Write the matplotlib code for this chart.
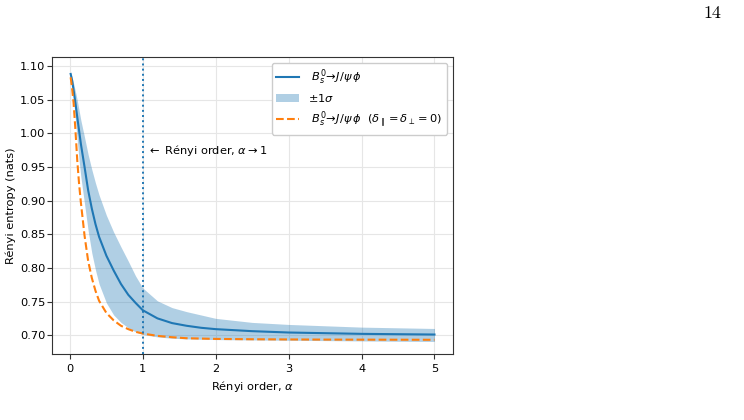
import numpy as np
import matplotlib
matplotlib.use("Agg")
import matplotlib.pyplot as plt

# Renyi order grid
alpha = [0.01, 0.03, 0.05, 0.075, 0.1, 0.125, 0.15, 0.2, 0.25, 0.3, 0.35, 0.4,
         0.5, 0.6, 0.7, 0.8, 0.9, 1.0, 1.2, 1.4, 1.6, 1.8, 2.0, 2.5, 3.0, 3.5,
         4.0, 4.5, 5.0]

# mean Renyi entropy (nats), Bs -> J/psi phi
h_mean = [1.088, 1.078, 1.064, 1.045, 1.024, 1.004, 0.984, 0.950, 0.915, 0.888,
          0.865, 0.846, 0.818, 0.796, 0.776, 0.760, 0.748, 0.737, 0.725, 0.718,
          0.714, 0.711, 0.709, 0.706, 0.704, 0.703, 0.702, 0.7015, 0.701]

# +/- 1 sigma band
h_upper = [1.090, 1.083, 1.074, 1.062, 1.049, 1.034, 1.019, 0.994, 0.968, 0.946,
           0.926, 0.908, 0.878, 0.853, 0.831, 0.810, 0.788, 0.770, 0.751, 0.741,
           0.735, 0.730, 0.725, 0.719, 0.716, 0.714, 0.712, 0.711, 0.710]
h_lower = [1.086, 1.070, 1.050, 1.020, 0.990, 0.960, 0.935, 0.895, 0.855, 0.822,
           0.797, 0.776, 0.748, 0.730, 0.719, 0.711, 0.705, 0.701, 0.6975, 0.6955,
           0.6945, 0.694, 0.6935, 0.693, 0.6925, 0.692, 0.6915, 0.691, 0.6907]

# no-polarisation case (delta_par = delta_perp = 0)
h_nopol = [1.083, 1.066, 1.045, 1.005, 0.960, 0.925, 0.897, 0.848, 0.810, 0.785,
           0.766, 0.751, 0.733, 0.722, 0.714, 0.709, 0.705, 0.7025, 0.699, 0.697,
           0.6955, 0.695, 0.6945, 0.694, 0.6937, 0.6935, 0.6934, 0.6933, 0.6932]

fs = 8.2

fig = plt.figure(figsize=(7.44, 4.2), dpi=100)
ax = fig.add_axes([0.0705, 0.157, 0.538, 0.707])

ax.plot(alpha, h_mean, color="#1f77b4", lw=1.5,
        label=r" $B_s^0\!\to\!J/\psi\,\phi$")
ax.fill_between(alpha, h_lower, h_upper, color="#1f77b4", alpha=0.35, lw=0,
                label=r"$\pm1\sigma$")
ax.plot(alpha, h_nopol, color="#ff7f0e", lw=1.5, ls="--",
        label=r" $B_s^0\!\to\!J/\psi\,\phi$  $(\delta_\parallel=\delta_\perp=0)$")
ax.axvline(1.0, color="#1f77b4", ls=":", lw=1.4)
ax.text(1.05, 0.975, r"$\leftarrow$ Rényi order, $\alpha\to1$", fontsize=fs,
        va="center", ha="left")

ax.set_xlim(-0.24, 5.25)
ax.set_ylim(0.672, 1.113)
ax.set_xticks([0, 1, 2, 3, 4, 5])
ax.set_yticks(np.arange(0.70, 1.101, 0.05))
ax.set_yticklabels([f"{v:.2f}" for v in np.arange(0.70, 1.101, 0.05)])
ax.tick_params(labelsize=fs, color="#333333")
ax.tick_params(axis="y", pad=1.5)
ax.grid(color="#e6e6e6", lw=0.8)
ax.set_axisbelow(True)
for s in ax.spines.values():
    s.set_color("#333333")
ax.set_xlabel(r"Rényi order, $\alpha$", fontsize=fs)
ax.set_ylabel("Rényi entropy (nats)", fontsize=fs, labelpad=3)
ax.legend(loc="upper right", fontsize=fs, framealpha=1, edgecolor="#cccccc",
          labelspacing=0.45)

fig.text(0.946, 0.986, "14", family="cmr10", fontsize=13, ha="left", va="top")

fig.savefig("out.png", dpi=100)
